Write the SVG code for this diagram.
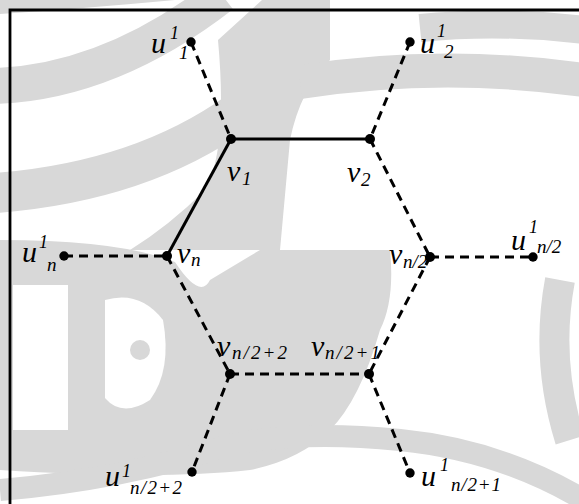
<svg xmlns="http://www.w3.org/2000/svg" width="579" height="504" viewBox="0 0 579 504">
<style>
.edge{stroke:#000;stroke-width:3;fill:none}
.dash{stroke-dasharray:9 6}
.dot{fill:#000}
.m{font-size:30px}
.s{font-size:19px}
.p{font-size:18px}
.wm{fill:#d8d8d8;stroke:none}
.wb{fill:none;stroke:#d8d8d8}
</style>
<rect x="0" y="0" width="579" height="504" fill="#fff"/>
<g id="watermark">
<path class="wm" d="M0 0 H175 Q90 8 0 14 Z"/>
<path class="wb" stroke-width="36" d="M-5 86 Q110 82 222 -5"/>
<path class="wb" stroke-width="40" d="M-5 193 Q140 182 238 112"/>
<path class="wm" d="M218 40 Q240 20 262 0 H330 V60 Q300 90 290 140 L280 250 H130 Q170 225 205 190 Q228 150 218 40 Z"/>
<path class="wb" stroke-width="34" d="M300 82 Q440 60 584 80"/>
<path class="wb" stroke-width="28" d="M420 28 Q500 20 584 30"/>
<path class="wm" d="M0 240 Q120 240 175 262 Q200 300 210 280 L260 250 H390 Q395 300 380 330 Q360 400 330 430 Q300 460 250 470 Q160 480 0 470 Z"/>
<path fill="#fff" d="M13 285 H68 V430 H13 Z"/>
<path fill="#fff" d="M105 300 Q140 290 163 320 Q172 370 150 400 Q122 418 105 398 Z"/>
<circle cx="140" cy="350" r="10" class="wm"/>
<path class="wb" stroke-width="22" d="M0 490 Q120 480 230 445 Q300 430 400 440 Q500 450 584 500"/>
<path class="wb" stroke-width="30" d="M560 280 Q545 360 570 440"/>
</g>
<g id="frame" stroke="#000" stroke-width="2.8" fill="none">
<path d="M10 504 V10 H579"/>
</g>
<g id="connectors">
<line class="edge" x1="231" y1="139" x2="370" y2="139"/>
<line class="edge" x1="231" y1="139" x2="167" y2="256"/>
<line class="edge dash" x1="191" y1="42" x2="231" y2="139"/>
<line class="edge dash" x1="410" y1="42" x2="370" y2="139"/>
<line class="edge dash" x1="370" y1="139" x2="430" y2="257"/>
<line class="edge dash" x1="64" y1="256" x2="167" y2="256"/>
<line class="edge dash" x1="430" y1="257" x2="533" y2="257"/>
<line class="edge dash" x1="167" y1="256" x2="230" y2="374"/>
<line class="edge dash" x1="430" y1="257" x2="369" y2="374"/>
<line class="edge dash" x1="230" y1="374" x2="369" y2="374"/>
<line class="edge dash" x1="230" y1="374" x2="192" y2="472"/>
<line class="edge dash" x1="369" y1="374" x2="410" y2="473"/>
</g>
<g font-family="Liberation Serif, Times New Roman, serif" font-style="italic" fill="#000">
<g id="u1_1"><circle class="dot" cx="191" cy="42" r="4.7"/><text class="m" x="151" y="53">u</text><text class="p" x="170" y="39">1</text><text class="s" x="179" y="59">1</text></g>
<g id="u1_2"><circle class="dot" cx="410" cy="42" r="4.7"/><text class="m" x="420" y="53">u</text><text class="p" x="437" y="37">1</text><text class="s" x="444" y="58">2</text></g>
<g id="v1"><circle class="dot" cx="231" cy="139" r="5"/><text class="m" x="227" y="181">v</text><text class="s" x="242" y="185">1</text></g>
<g id="v2"><circle class="dot" cx="370" cy="139" r="5"/><text class="m" x="347" y="182">v</text><text class="s" x="361" y="186">2</text></g>
<g id="u1_n"><circle class="dot" cx="64" cy="256" r="4.7"/><text class="m" x="22" y="262">u</text><text class="p" x="39" y="248">1</text><text class="s" x="47" y="271">n</text></g>
<g id="vn"><circle class="dot" cx="167" cy="256" r="5"/><text class="m" x="177" y="263">v</text><text class="s" x="191" y="266">n</text></g>
<g id="v_n2"><circle class="dot" cx="430" cy="257" r="5"/><text class="m" x="389" y="264">v</text><text class="s" x="403" y="268">n/2</text></g>
<g id="u1_n2"><circle class="dot" cx="533" cy="257" r="4.7"/><text class="m" x="511" y="250">u</text><text class="p" x="529" y="233">1</text><text class="s" x="537" y="253">n/2</text></g>
<g id="v_n2p2"><circle class="dot" cx="230" cy="374" r="5"/><text class="m" x="217" y="356">v</text><text class="s" x="232" y="359" textLength="55" lengthAdjust="spacing">n/2+2</text></g>
<g id="v_n2p1"><circle class="dot" cx="369" cy="374" r="5"/><text class="m" x="311" y="356">v</text><text class="s" x="325" y="359" textLength="55" lengthAdjust="spacing">n/2+1</text></g>
<g id="u1_n2p2"><circle class="dot" cx="192" cy="472" r="4.7"/><text class="m" x="105" y="486">u</text><text class="p" x="122" y="477">1</text><text class="s" x="130" y="494" textLength="52" lengthAdjust="spacing">n/2+2</text></g>
<g id="u1_n2p1"><circle class="dot" cx="410" cy="473" r="4.7"/><text class="m" x="421" y="486">u</text><text class="p" x="440" y="471">1</text><text class="s" x="451" y="491" textLength="50" lengthAdjust="spacing">n/2+1</text></g>
</g>
</svg>
